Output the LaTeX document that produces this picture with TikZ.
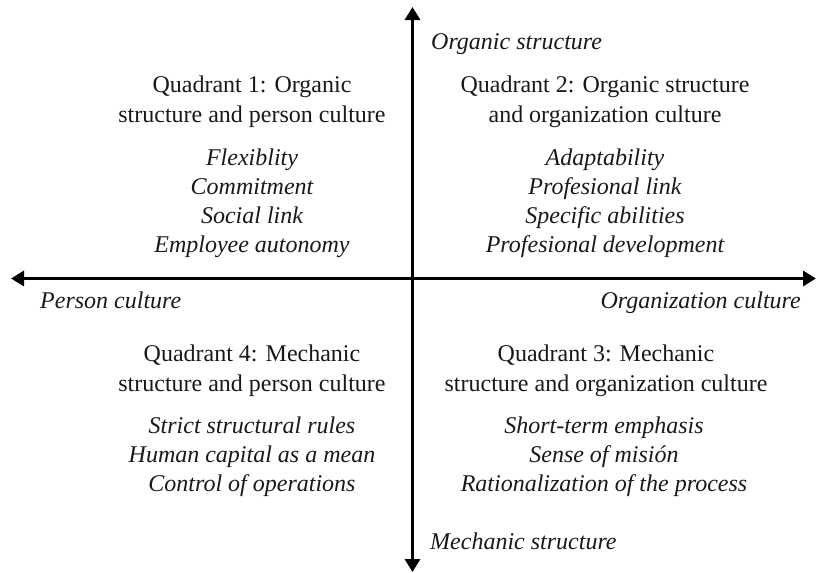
\documentclass[tikz,border=0pt]{standalone}
\usepackage{fontspec}
\setmainfont{Liberation Serif}
\usetikzlibrary{arrows.meta}
\begin{document}
\begin{tikzpicture}[x=1pt,y=-1pt,
  axis/.style={line width=3.8pt,
    {Triangle[length=13pt,width=15pt]}-{Triangle[length=13pt,width=15pt]}},
  qtitle/.style={align=center,inner sep=0pt,font=\fontsize{24}{30}\selectfont,text=black!90},
  qitems/.style={align=center,inner sep=0pt,font=\fontsize{24}{29}\selectfont\itshape,text=black!90},
  axlabel/.style={inner sep=0pt,font=\fontsize{24}{29}\selectfont\itshape,text=black!90}]
  \useasboundingbox (0,0) rectangle (820,573);

  % axes
  \coordinate (top) at (412.5,7);
  \coordinate (bottom) at (412.5,572);
  \coordinate (left) at (11,278.5);
  \coordinate (right) at (816,278.5);
  \draw[axis] (left) -- (right);
  \draw[axis] (bottom) -- (top);

  % axis labels
  \node[axlabel,anchor=base west] (organic) at (431,49) {Organic structure};
  \node[axlabel,anchor=base west] (person) at (40,308) {Person culture};
  \node[axlabel,anchor=base east] (orgcult) at (801,308) {Organization culture};
  \node[axlabel,anchor=base west] (mechanic) at (430,549) {Mechanic structure};

  % quadrant 1
  \node[qtitle] (q1title) at (252,102) {Quadrant 1: Organic\\structure and person culture};
  \node[qitems] (q1items) at (252,203) {Flexiblity\\Commitment\\Social link\\Employee autonomy};

  % quadrant 2
  \node[qtitle] (q2title) at (605,102) {Quadrant 2: Organic structure\\and organization culture};
  \node[qitems] (q2items) at (605,203) {Adaptability\\Profesional link\\Specific abilities\\Profesional development};

  % quadrant 4
  \node[qtitle] (q4title) at (252,371) {Quadrant 4: Mechanic\\structure and person culture};
  \node[qitems] (q4items) at (252,457) {Strict structural rules\\Human capital as a mean\\Control of operations};

  % quadrant 3
  \node[qtitle] (q3title) at (606,371) {Quadrant 3: Mechanic\\structure and organization culture};
  \node[qitems] (q3items) at (604,457) {Short-term emphasis\\Sense of misión\\Rationalization of the process};
\end{tikzpicture}
\end{document}
